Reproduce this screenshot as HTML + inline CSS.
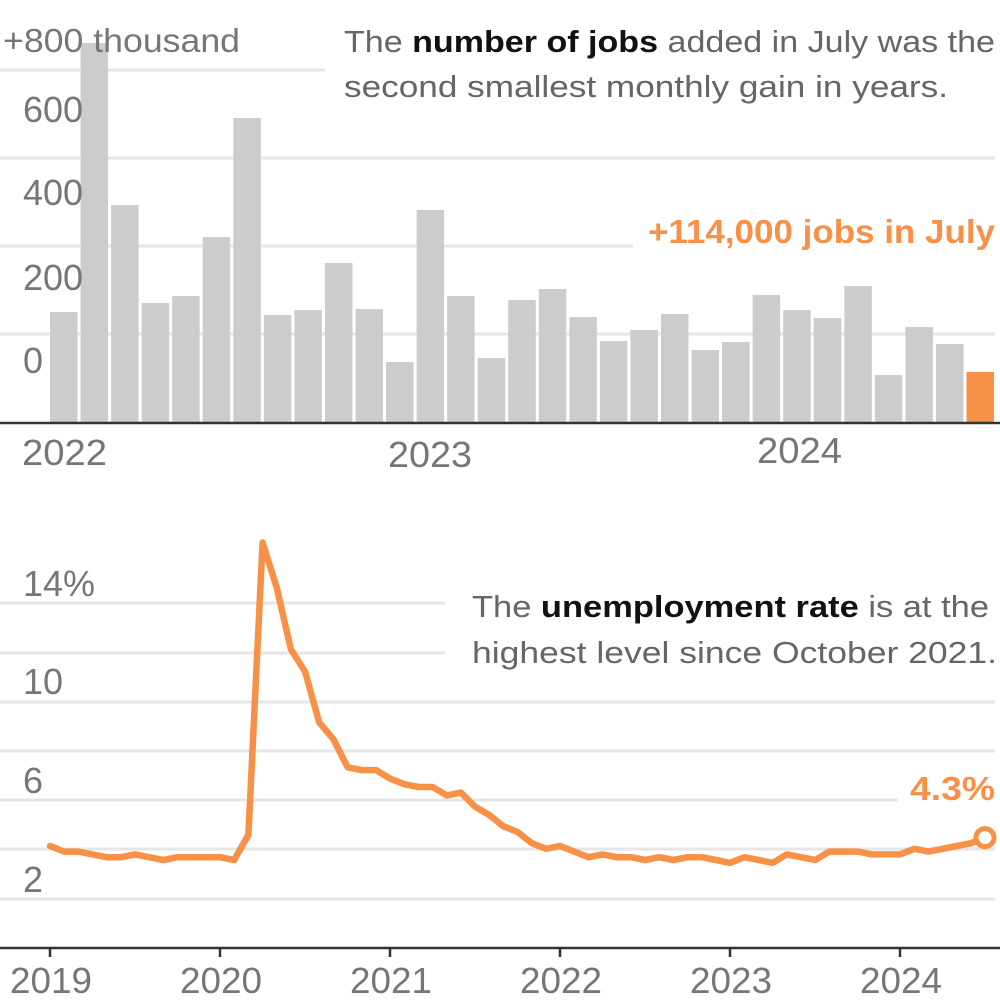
<!DOCTYPE html>
<html><head><meta charset="utf-8"><style>
html,body{margin:0;padding:0;background:#fff;}
svg{display:block;font-family:"Liberation Sans",sans-serif;}
.t{fill:#767676;font-size:36px;}
.a{fill:#666;font-size:31px;}
.b{fill:#111;font-weight:bold;}
.g{stroke:#e6e6e6;stroke-width:3;}
</style></head><body>
<svg id="s" width="1000" height="1000" viewBox="0 0 1000 1000">
<line class="g" x1="0" y1="70" x2="325" y2="70"/>
<line class="g" x1="0" y1="158" x2="995" y2="158"/>
<line class="g" x1="0" y1="246" x2="633" y2="246"/>
<line class="g" x1="0" y1="334" x2="995" y2="334"/>
<g id="bars"></g>
<line x1="0" y1="423" x2="1000" y2="423" stroke="#333" stroke-width="2.5"/>
<text class="t" x="3" y="52" textLength="237" lengthAdjust="spacingAndGlyphs" style="font-size:33px">+800 thousand</text>
<text class="t" x="23" y="122">600</text>
<text class="t" x="23" y="205">400</text>
<text class="t" x="23" y="290">200</text>
<text class="t" x="23" y="373">0</text>
<text class="t" x="22" y="465" textLength="85" lengthAdjust="spacingAndGlyphs">2022</text>
<text class="t" x="388" y="467" textLength="84" lengthAdjust="spacingAndGlyphs">2023</text>
<text class="t" x="757" y="463" textLength="85" lengthAdjust="spacingAndGlyphs">2024</text>
<text class="a" x="344" y="52" textLength="651" lengthAdjust="spacingAndGlyphs">The <tspan class="b">number of jobs</tspan> added in July was the</text>
<text class="a" x="344" y="97" textLength="604" lengthAdjust="spacingAndGlyphs">second smallest monthly gain in years.</text>
<text x="648" y="243" textLength="347" lengthAdjust="spacingAndGlyphs" style="fill:#f79148;font-weight:bold;font-size:33px">+114,000 jobs in July</text>

<line class="g" x1="0" y1="603" x2="445" y2="603"/>
<line class="g" x1="0" y1="653" x2="445" y2="653"/>
<line class="g" x1="0" y1="702" x2="995" y2="702"/>
<line class="g" x1="0" y1="751" x2="995" y2="751"/>
<line class="g" x1="0" y1="800" x2="898" y2="800"/>
<line class="g" x1="0" y1="849" x2="995" y2="849"/>
<line class="g" x1="0" y1="899" x2="995" y2="899"/>
<text class="t" x="23" y="596">14%</text>
<text class="t" x="23" y="694">10</text>
<text class="t" x="23" y="793">6</text>
<text class="t" x="23" y="892">2</text>
<text class="a" x="472" y="617" textLength="517" lengthAdjust="spacingAndGlyphs">The <tspan class="b">unemployment rate</tspan> is at the</text>
<text class="a" x="472" y="663" textLength="525" lengthAdjust="spacingAndGlyphs">highest level since October 2021.</text>
<text x="910" y="800" textLength="85" lengthAdjust="spacingAndGlyphs" style="fill:#f79148;font-weight:bold;font-size:33px">4.3%</text>
<line x1="0" y1="948" x2="1000" y2="948" stroke="#333" stroke-width="2.5"/>
<g id="ticks"></g>
<polyline id="ln" fill="none" stroke="#f79148" stroke-width="6.5" stroke-linejoin="round" stroke-linecap="round" points=""/>
<circle cx="985" cy="837.6" r="9" fill="#fff" stroke="#f79148" stroke-width="5"/>
<text class="t" x="10" y="993" textLength="82" lengthAdjust="spacingAndGlyphs">2019</text>
<text class="t" x="180" y="993" textLength="82" lengthAdjust="spacingAndGlyphs">2020</text>
<text class="t" x="350" y="993" textLength="82" lengthAdjust="spacingAndGlyphs">2021</text>
<text class="t" x="520" y="993" textLength="82" lengthAdjust="spacingAndGlyphs">2022</text>
<text class="t" x="690" y="993" textLength="82" lengthAdjust="spacingAndGlyphs">2023</text>
<text class="t" x="860" y="993" textLength="82" lengthAdjust="spacingAndGlyphs">2024</text>
</svg>
<script>
var NS="http://www.w3.org/2000/svg";
var tops=[312,43,205,303,296,237,118,315,310,263,309,362,210,296,358,300,289,317,341,330,314,350,342,295,310,318,286,375,327,344,372];
var bg=document.getElementById("bars");
tops.forEach(function(t,i){var r=document.createElementNS(NS,"rect");r.setAttribute("x",50+i*30.55);r.setAttribute("y",t);r.setAttribute("width",27.5);r.setAttribute("height",423-t);r.setAttribute("fill",i==30?"#f79148":"#cccccc");bg.appendChild(r);});
var u=[4.0,3.8,3.8,3.7,3.6,3.6,3.7,3.6,3.5,3.6,3.6,3.6,
3.6,3.5,4.4,14.8,13.2,11.0,10.2,8.4,7.8,6.8,6.7,6.7,
6.4,6.2,6.1,6.1,5.8,5.9,5.4,5.1,4.7,4.5,4.1,3.9,
4.0,3.8,3.6,3.7,3.6,3.6,3.5,3.6,3.5,3.6,3.6,3.5,
3.4,3.6,3.5,3.4,3.7,3.6,3.5,3.8,3.8,3.8,3.7,3.7,
3.7,3.9,3.8,3.9,4.0,4.1,4.3];
var pts=u.map(function(v,i){return (50+i*14.17).toFixed(1)+","+(846-(v-4)*28.1).toFixed(1);});
document.getElementById("ln").setAttribute("points",pts.join(" "));
var tg=document.getElementById("ticks");
for(var k=0;k<6;k++){var l=document.createElementNS(NS,"line");var x=50+k*170;l.setAttribute("x1",x);l.setAttribute("x2",x);l.setAttribute("y1",948);l.setAttribute("y2",957);l.setAttribute("stroke","#333");l.setAttribute("stroke-width","2.5");tg.appendChild(l);}
</script>
</body></html>
